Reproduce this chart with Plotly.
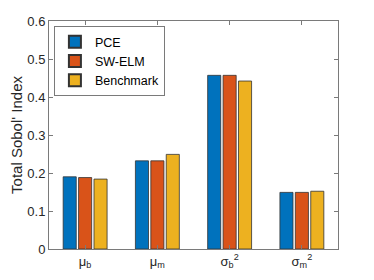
import plotly.graph_objects as go

categories = ["μ<sub>b</sub>", "μ<sub>m</sub>", "σ<sub>b</sub><sup>2</sup>", "σ<sub>m</sub><sup>2</sup>"]
x_pos = [1, 2, 3, 4]
pce = [0.190, 0.232, 0.457, 0.149]
sw_elm = [0.188, 0.232, 0.457, 0.149]
benchmark = [0.184, 0.249, 0.442, 0.152]
series_names = ["PCE", "SW-ELM", "Benchmark"]
colors = ["#0072BD", "#D95319", "#EDB120"]
y_ticks = [0, 0.1, 0.2, 0.3, 0.4, 0.5, 0.6]

FONT = "Liberation Sans"

fig = go.Figure()
for name, vals, col in zip(series_names, [pce, sw_elm, benchmark], colors):
    fig.add_trace(go.Bar(x=x_pos, y=vals, name=name,
                         marker=dict(color=col, line=dict(color="#333333", width=0.8))))

axis_common = dict(showline=True, linecolor="#7a7a7a", linewidth=1, mirror="ticks",
                   ticks="inside", ticklen=4, tickcolor="#7a7a7a", showgrid=False, zeroline=False,
                   automargin=False,
                   tickfont=dict(size=13, color="#262626", family=FONT))

# page body has an 8px default margin; figure is sized to fit the 374x280 window
fig.update_layout(
    width=366, height=272,
    margin=dict(l=41, r=36, t=13, b=31),
    paper_bgcolor="white", plot_bgcolor="white",
    barmode="group", bargap=0.36, bargroupgap=0.15,
    font=dict(family=FONT, color="#262626", size=13),
    legend=dict(x=0.017, y=0.978, xanchor="left", yanchor="top",
                bordercolor="#7a7a7a", borderwidth=1, bgcolor="white",
                font=dict(size=12.5, family=FONT, color="black"),
                tracegroupgap=0, itemwidth=30, itemsizing="constant"),
    xaxis=dict(range=[0.5, 4.5], tickvals=x_pos, ticktext=categories, **axis_common),
    yaxis=dict(range=[0, 0.6], tickvals=y_ticks, ticktext=[f"{t:g}" for t in y_ticks],
               title=dict(text="Total Sobol' Index", font=dict(size=15, family=FONT, color="#262626"), standoff=3),
               **axis_common),
)
fig.write_html("out.html")
